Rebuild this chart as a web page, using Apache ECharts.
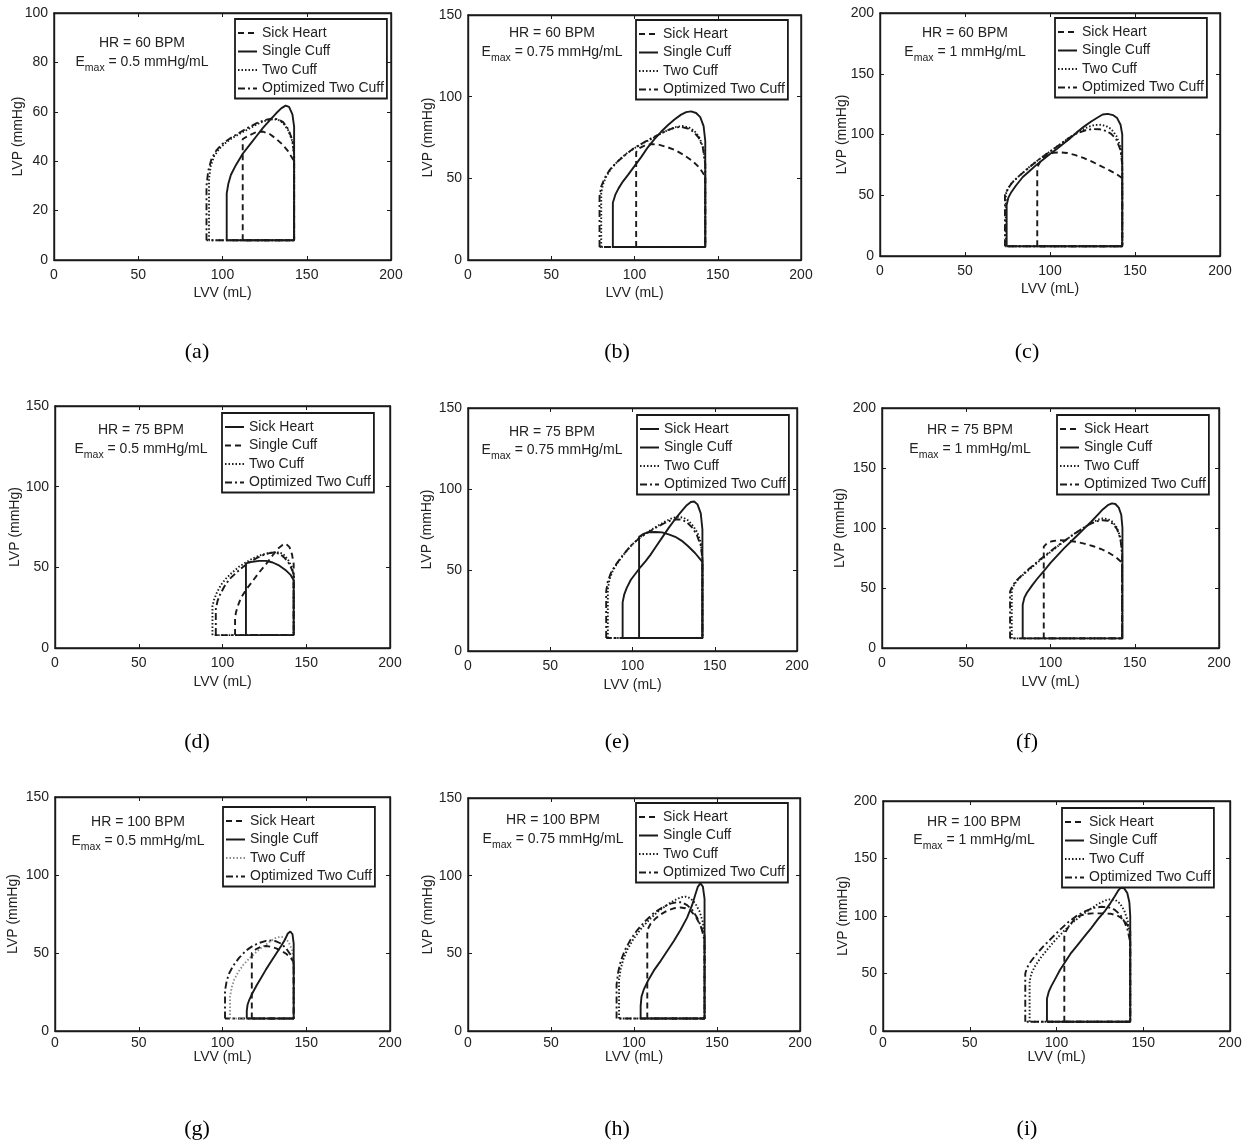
<!DOCTYPE html>
<html>
<head>
<meta charset="utf-8">
<script src="https://cdn.jsdelivr.net/npm/echarts@6/dist/echarts.min.js"></script>
<style>
  html, body { margin: 0; padding: 0; background: #fff; }
  #chart { width: 1250px; height: 1146px; }
</style>
</head>
<body>
<div id="chart"></div>
<script>
// ---- data ----
const panelLetters = ['a', 'b', 'c', 'd', 'e', 'f', 'g', 'h', 'i'];
const hrValues = [60, 60, 60, 75, 75, 75, 100, 100, 100];
const emaxValues = ['0.5', '0.75', '1', '0.5', '0.75', '1', '0.5', '0.75', '1'];
const yMaxValues = [100, 150, 200, 150, 150, 200, 150, 150, 200];
const yIntervals = [20, 50, 50, 50, 50, 50, 50, 50, 50];
const xTicks = [0, 50, 100, 150, 200];
const seriesNames = ['Sick Heart', 'Single Cuff', 'Two Cuff', 'Optimized Two Cuff'];

// (a) HR 60, Emax 0.5
const sickA = [[112,8],[112,49],[116,50.5],[120,51.8],[124,52],[128,51],[132,49],[136,46.5],[139,44],[142.5,40],[142.5,8],[112,8]];
const singleA = [[102.5,8],[102.5,27],[103.5,31],[105,34.5],[108,38.5],[112,43],[116,46.5],[120,50],[124,53.5],[128,56.5],[132,59.5],[135,61.5],[137.5,62.5],[139.5,62],[141.5,59],[142.5,54],[142.5,46],[142.5,8],[102.5,8]];
const twoA = [[92,8],[92,33],[93,38],[95,42],[98,45],[102,47.5],[106,49.5],[110,51],[114,52.5],[118,54],[122,55.5],[126,56.5],[130,57],[133,56.8],[136,55.5],[139,52.5],[141.5,48],[142.5,42],[142.5,8],[92,8]];
const optA = [[90.5,8],[90.5,30],[91.5,36],[93.5,41],[96.5,44.5],[100,47],[105,49.5],[110,51.5],[115,53.5],[120,55.3],[125,56.7],[129,57.2],[133,57],[136,55.8],[139,53],[141.5,48.5],[142.5,43],[142.5,8],[90.5,8]];

// (b) HR 60, Emax 0.75
const sickB = [[101,8],[101,66],[103,68.5],[106,70],[110,71],[115,70.5],[120,69],[125,67],[130,64],[135,60.5],[139,56.5],[142.5,51],[142.5,8],[101,8]];
const singleB = [[87,8],[87,35],[88.5,40],[90.5,44],[93,48],[96,52],[100,57.5],[104,63],[108,69],[112,74],[116,78.5],[120,82.5],[124,86],[128,89],[131,90.5],[134,91],[137,90],[139.5,87.5],[141.5,82],[142.5,73],[142.5,57],[142.5,8],[87,8]];
const twoB = [[80,8],[80,41],[81,46],[83,51],[86,56],[90,60.5],[95,65],[100,68.5],[105,71.5],[110,74],[115,77],[120,79.5],[125,81.5],[129,82],[133,81],[136,79],[139,75],[141.5,68],[142.5,58],[142.5,8],[80,8]];
const optB = [[79,8],[79,39],[80,45],[82,50],[85,55],[89,59.5],[94,64],[99,68],[104,71],[110,74.5],[115,77],[120,79.5],[124,81],[128,81.5],[132,80.5],[135.5,78.5],[138.5,75],[141,69],[142.5,59],[142.5,8],[79,8]];

// (c) HR 60, Emax 1
const sickC = [[92.5,8],[92.5,73],[94,77],[96,80.5],[99,83.5],[102,85],[106,85.3],[110,84.8],[115,83],[120,80.5],[125,77.5],[130,74],[135,70.5],[139,67.5],[142.5,64],[142.5,8],[92.5,8]];
const singleC = [[74.5,8],[74.5,42],[75.5,48],[77,52],[80,58],[84,65],[88,70],[92,75],[96,79.5],[100,84],[104,88],[108,92.5],[112,97],[116,102],[120,106.5],[124,110.5],[128,114],[131,116.5],[134,117],[137,116],[139.5,113.5],[141.5,108],[142.5,100],[142.5,75],[142.5,8],[74.5,8]];
const twoC = [[74,8],[74,51],[75.5,56],[78,61],[82,66],[88,73.5],[94,80],[100,86],[106,92],[112,98],[117,102.5],[122,106],[126,107.8],[130,108],[133,107],[136,104.5],[139,99],[141.5,90],[142.5,78],[142.5,65],[142.5,8],[74,8]];
const optC = [[73.5,8],[73.5,50],[75,55],[77.5,60],[81.5,65.5],[87,72],[93,79],[99,85],[105,91],[111,97],[116,101],[121,103.5],[125,104.5],[129,104.3],[133,103],[136,100.5],[139,96],[141.5,87],[142.5,75],[142.5,8],[73.5,8]];

// (d) HR 75, Emax 0.5
const sickD = [[114,8],[114,52.5],[118,53.5],[122,54],[126,54],[130,53],[134,51],[138,48],[140.5,45.5],[142.5,42],[142.5,8],[114,8]];
const singleD = [[107.5,8],[107.5,18],[108,22],[109.5,27],[111,31],[114,36],[118,41.5],[122,47],[126,52],[130,57.5],[133,61.5],[136,64],[138,64.5],[140,62.5],[141.5,58],[142.5,52],[142.5,8],[107.5,8]];
const twoD = [[94,8],[94,26],[95,30],[96.5,34],[99,39],[102,43],[106,47],[110,50.5],[114,53],[118,55.5],[122,57.3],[126,58.5],[130,59.3],[133,59.3],[136,58.5],[139,55],[141.5,50],[142.5,45],[142.5,8],[94,8]];
const optD = [[96,8],[96,24],[97,29],[98.5,33],[101,38],[104,42.5],[108,46.5],[112,50],[116,53],[120,55.5],[124,57.5],[128,58.8],[131,59.2],[134,58.5],[137,56],[140,52],[142.5,46],[142.5,8],[96,8]];

// (e) HR 75, Emax 0.75
const sickE = [[104,8],[104,70.5],[107,72.5],[110,73.3],[114,73.5],[118,73.2],[122,72],[126,70.5],[130,68],[134,64.5],[138,60.5],[142.5,55],[142.5,8],[104,8]];
const singleE = [[94,8],[94,30],[95,35],[96.5,39],[99,44],[102,48],[105,52],[108,55.5],[111,59.5],[114,64],[118,70],[122,76],[126,81.5],[130,86.5],[133,90],[135.5,92],[137.5,92.3],[139.5,90.5],[141.5,85],[142.5,75],[142.5,55],[142.5,8],[94,8]];
const twoE = [[85,8],[85,38],[86,44],[88,49.5],[91,54.5],[95,60],[100,66],[105,70.5],[110,74],[115,77],[120,80],[124,82],[128,82.8],[131,82.3],[134,80.5],[137,77],[139.5,73],[141.5,67],[142.5,58],[142.5,8],[85,8]];
const optE = [[84,8],[84,37],[85,43],[87,48.5],[90,53.5],[94,59],[99,65],[104,69.5],[109,73],[114,76],[119,78.7],[123,80.5],[127,81.3],[130,81],[133,79.5],[136,76.5],[139,72],[141.5,65],[142.5,57],[142.5,8],[84,8]];

// (f) HR 75, Emax 1
const sickF = [[96,8],[96,84.5],[98,87.5],[101,89],[105,89.8],[110,89.5],[115,88.5],[120,87],[125,85],[130,82.5],[135,79],[139,75.5],[142.5,71],[142.5,8],[96,8]];
const singleF = [[83.5,8],[83.5,36],[84.5,42],[86,46],[89,52],[92,57.5],[96,64],[100,71],[104,77],[108,83],[112,88.5],[116,94],[120,99.5],[124,105],[128,111],[131,115.5],[134,119],[136.5,120.5],[138.5,120],[140.5,117],[142,111],[142.7,100],[142.7,76],[142.7,8],[83.5,8]];
const twoF = [[77,8],[77,48],[78.5,53],[81,57.5],[85,62.5],[90,68.5],[95,74.5],[100,80],[105,85.5],[110,91],[115,96],[120,100.5],[124,104],[128,106.8],[131,108],[134,107.5],[137,105],[139.5,100],[141.5,92],[142.5,80],[142.5,8],[77,8]];
const optF = [[76,8],[76,47],[77.5,52],[80,56.5],[84,62],[89,68],[94,74],[99,79.5],[104,85],[109,90],[114,95],[119,99.5],[123,103],[127,105.5],[131,106.5],[134,106],[137,103.5],[139.5,99],[141.5,91],[142.5,78],[142.5,8],[76,8]];

// (g) HR 100, Emax 0.5
const sickG = [[117.5,8],[117.5,50],[120,52.5],[123,54],[126,54.5],[129,54],[132,53],[135,51.5],[138,49.5],[141,46.5],[142.5,44],[142.5,8],[117.5,8]];
const singleG = [[114.5,8],[114.5,13],[115,17],[116,20],[118,24.5],[120.5,29.5],[123,34],[126,39.5],[129,44.5],[132,49.5],[135,54.5],[137.5,59],[139,62.5],[140.5,63.8],[141.8,62],[142.5,56],[142.5,45],[142.5,8],[114.5,8]];
const twoG = [[104.5,8],[104.5,22],[105.5,28],[107,33],[109.5,38],[112.5,42.5],[116,46.5],[120,50.5],[124,54],[128,57],[131.5,59.5],[134.5,60.5],[137,60],[139.5,57],[141.5,52],[142.5,45],[142.5,8],[104.5,8]];
const optG = [[101.5,8],[101.5,26],[102.5,32],[104,37],[106.5,42],[110,47],[114,51.5],[118,54.5],[122,56.5],[126,57.8],[129,58],[132,57.5],[135,56],[138,53],[140.5,49],[142.5,43],[142.5,8],[101.5,8]];

// (h) HR 100, Emax 0.75
const sickH = [[108,8],[108,65],[110,69],[113,72.5],[116,75],[120,77.5],[124,79],[128,79.5],[131,79],[134,77.5],[137,74],[140,68],[142.5,61],[142.5,8],[108,8]];
const singleH = [[104,8],[104,16],[104.5,22],[106,27],[108.5,32.5],[112,39],[116,45],[120,51.5],[124,58],[128,65],[132,73],[135,81],[137,88],[138.5,93],[140,95],[141.5,93],[142.5,85],[142.5,70],[142.5,8],[104,8]];
const twoH = [[91,8],[91,33],[92,40],[93.5,46],[96,52.5],[99.5,59],[104,65.5],[109,71.5],[114,76.5],[119,80.5],[124,84],[128,86],[131,86.5],[134,85.5],[137,82],[139.5,77],[141.5,70],[142.5,61],[142.5,8],[91,8]];
const optH = [[89.5,8],[89.5,30],[90.5,38],[92,45],[94.5,52],[98,59],[102,65],[107,71],[112,76],[117,79.5],[122,82],[126,83],[129,82.8],[132,81],[135,78],[138,73],[140.5,67],[142.5,58],[142.5,8],[89.5,8]];

// (i) HR 100, Emax 1
const sickI = [[104.5,8],[104.5,82],[105.5,87],[107.5,92],[110,96.5],[113,100],[117,101.8],[121,102.3],[126,102.3],[131,102],[135,100.5],[138.5,97],[141,92],[142.5,87],[142.5,8],[104.5,8]];
const singleI = [[94.5,8],[94.5,28],[95.5,34],[97,39],[99.5,46],[102,53],[105,60],[108,67],[112,74.5],[116,82],[120,89.5],[124,97.5],[128,104.5],[131,111],[133.5,117],[135.5,122],[137,124.5],[139,124],[140.8,120],[142,112],[142.5,100],[142.5,8],[94.5,8]];
const twoI = [[84.5,8],[84.5,43],[85.5,50],[87.5,56],[90.5,63],[94.5,70.5],[99,78.5],[104,86.5],[109,94],[114,100],[119,105.5],[124,110.5],[128,113.5],[131,114.5],[134,113.8],[136.5,111],[139,105],[141,96],[142.5,83],[142.5,8],[84.5,8]];
const optI = [[82,8],[82,50],[83,55],[85,60],[88,66],[92,73],[97,80.5],[102,88],[107,95],[112,100.5],[117,104.5],[122,107.2],[126,108],[130,107.5],[133.5,105.5],[136.5,101.5],[139,95.5],[141,88],[142.5,77],[142.5,8],[82,8]];

const loops = [
  [sickA, singleA, twoA, optA], [sickB, singleB, twoB, optB], [sickC, singleC, twoC, optC],
  [sickD, singleD, twoD, optD], [sickE, singleE, twoE, optE], [sickF, singleF, twoF, optF],
  [sickG, singleG, twoG, optG], [sickH, singleH, twoH, optH], [sickI, singleI, twoI, optI]
];

// ---- layout ----
// grid boxes [left, top, width, height]
const gridBoxes = [
  [54, 13, 337, 247], [468, 15, 333, 245], [880, 13, 340, 243],
  [55, 406, 335, 242], [468, 408, 329, 243], [882, 408, 337, 240],
  [55, 797, 335, 234], [468, 798, 332, 233], [883, 801, 347, 230]
];
const legendPos = [
  [235, 19], [636, 20], [1055, 18],
  [222, 413], [637, 415], [1057, 415],
  [223, 807], [636, 803], [1062, 808]
];
// annotation [centerX, hrLineY, emaxLineY]
const notePos = [
  [142, 43, 62], [552, 33, 52], [965, 33, 52],
  [141, 430, 449], [552, 432, 450], [970, 430, 449],
  [138, 822, 841], [553, 820, 839], [974, 822, 840]
];
const captionPos = [
  [197, 353], [617, 353], [1027, 353],
  [197, 743], [617, 743], [1027, 743],
  [197, 1130], [617, 1130], [1027, 1130]
];
const xNameGap = [26, 26, 26, 27, 27, 27, 19, 19, 19];
const xLabelMargin = [8, 8, 8, 8, 8, 8, 5, 5, 5];
const yNameGap = [29, 33, 31, 33, 34, 35, 35, 33, 33];

const INK = '#1a1a1a';
const FONT = 'Liberation Sans';
const dashTypes = { solid: 'solid', dash: [6, 4], dot: [1.5, 2], dashdot: [7, 3, 2, 3] };
const defaultStyles = ['dash', 'solid', 'dot', 'dashdot'];
const panelStyles = [
  defaultStyles, defaultStyles, defaultStyles,
  ['solid', 'dash', 'dot', 'dashdot'], ['solid', 'solid', 'dot', 'dashdot'], defaultStyles,
  defaultStyles, defaultStyles, defaultStyles
];

const grids = [], xAxes = [], yAxes = [], topAxes = [], rightAxes = [];
const series = [], legends = [], titles = [];

panelLetters.forEach(function (p, i) {
  const g = gridBoxes[i];
  grids.push({ left: g[0], top: g[1], width: g[2], height: g[3], show: true,
    borderColor: INK, borderWidth: 1.4, backgroundColor: 'transparent' });

  xAxes.push({
    gridIndex: i, type: 'value', min: xTicks[0], max: xTicks[xTicks.length - 1], interval: 50,
    position: 'bottom',
    axisLine: { show: true, onZero: false, lineStyle: { color: INK, width: 1.4 } },
    axisTick: { show: true, inside: true, length: 4, lineStyle: { color: INK } },
    splitLine: { show: false },
    axisLabel: { fontSize: 14, color: '#222', margin: xLabelMargin[i], fontFamily: FONT },
    name: 'LVV (mL)', nameLocation: 'middle', nameGap: xNameGap[i], nameMoveOverlap: false,
    nameTextStyle: { fontSize: 14, color: '#222', fontFamily: FONT }
  });
  topAxes.push({
    gridIndex: i, type: 'value', min: 0, max: 200, interval: 50, position: 'top',
    axisLine: { show: true, onZero: false, lineStyle: { color: INK, width: 1.4 } },
    axisTick: { show: true, inside: true, length: 4, lineStyle: { color: INK } },
    axisLabel: { show: false }, splitLine: { show: false }
  });
  yAxes.push({
    gridIndex: i, type: 'value', min: 0, max: yMaxValues[i], interval: yIntervals[i],
    position: 'left',
    axisLine: { show: true, onZero: false, lineStyle: { color: INK, width: 1.4 } },
    axisTick: { show: true, inside: true, length: 4, lineStyle: { color: INK } },
    splitLine: { show: false },
    axisLabel: { fontSize: 14, color: '#222', margin: 6, fontFamily: FONT },
    name: 'LVP (mmHg)', nameLocation: 'middle', nameGap: yNameGap[i], nameMoveOverlap: false,
    nameTextStyle: { fontSize: 14, color: '#222', fontFamily: FONT }
  });
  rightAxes.push({
    gridIndex: i, type: 'value', min: 0, max: yMaxValues[i], interval: yIntervals[i],
    position: 'right',
    axisLine: { show: true, onZero: false, lineStyle: { color: INK, width: 1.4 } },
    axisTick: { show: true, inside: true, length: 4, lineStyle: { color: INK } },
    axisLabel: { show: false }, splitLine: { show: false }
  });

  const names = [];
  seriesNames.forEach(function (sn, k) {
    const nm = p + '|' + sn;
    names.push(nm);
    const color = (i === 6 && k === 2) ? '#8c8c8c' : INK;
    series.push({
      type: 'line', name: nm, xAxisIndex: i, yAxisIndex: i,
      data: loops[i][k], symbol: 'none', silent: true, z: 5 - k,
      color: color,
      lineStyle: { color: color, width: 1.9, type: dashTypes[panelStyles[i][k]] }
    });
  });

  legends.push({
    left: legendPos[i][0], top: legendPos[i][1], orient: 'vertical',
    data: names, selectedMode: false,
    formatter: function (n) { return n.split('|')[1]; },
    itemWidth: 19, itemHeight: 14, itemGap: 4.5,
    padding: [7, 3, 3, 2],
    itemStyle: { opacity: 0, borderWidth: 0 },
    borderColor: INK, borderWidth: 1.8, backgroundColor: '#fff',
    textStyle: { fontSize: 14, color: '#222', fontFamily: FONT }
  });

  const np = notePos[i];
  titles.push({
    text: 'HR = ' + hrValues[i] + ' BPM', left: np[0], top: np[1] - 8, textAlign: 'center', padding: 0,
    textStyle: { fontSize: 14, fontWeight: 'normal', color: '#222', fontFamily: FONT, lineHeight: 16 }
  });
  titles.push({
    text: '{n|E}{s|max}{n| = ' + emaxValues[i] + ' mmHg/mL}',
    left: np[0], top: np[2] - 7.5, textAlign: 'center', padding: 0,
    textStyle: {
      fontSize: 14, fontWeight: 'normal', color: '#222', fontFamily: FONT,
      rich: {
        n: { fontSize: 14, lineHeight: 16, color: '#222', fontFamily: FONT },
        s: { fontSize: 10.5, lineHeight: 12, padding: [11, 0, 0, 0], color: '#222', fontFamily: FONT }
      }
    }
  });
  titles.push({
    text: '(' + p + ')', left: captionPos[i][0], top: captionPos[i][1] - 12, textAlign: 'center', padding: 0,
    textStyle: { fontSize: 22, fontWeight: 'normal', color: '#000', fontFamily: 'Liberation Serif' }
  });
});

const chart = echarts.init(document.getElementById('chart'));
chart.setOption({
  animation: false,
  backgroundColor: '#fff',
  textStyle: { fontFamily: FONT },
  title: titles,
  legend: legends,
  grid: grids,
  xAxis: xAxes.concat(topAxes),
  yAxis: yAxes.concat(rightAxes),
  series: series
});
</script>
</body>
</html>
